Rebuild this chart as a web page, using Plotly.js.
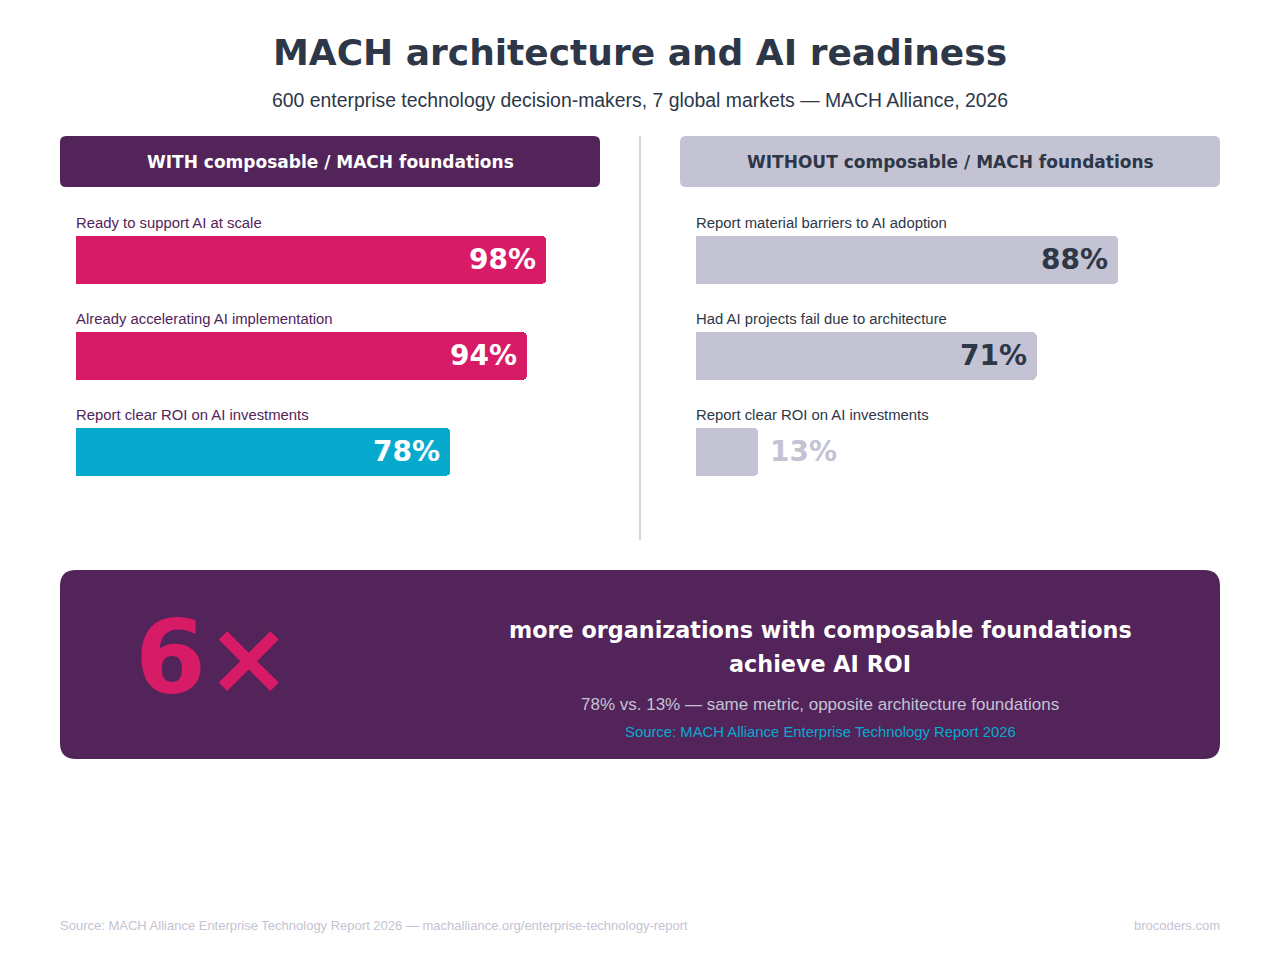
<!DOCTYPE html>
<html>
<head>
<meta charset="utf-8">
<script src="https://cdn.plot.ly/plotly-3.0.1.min.js"></script>
<style>html,body{margin:0;padding:0;background:#fff;}#chart{width:1280px;height:960px;}</style>
</head>
<body>
<div id="chart"></div>
<script>
// ---- data ----
const withLabels = ['Ready to support AI at scale', 'Already accelerating AI implementation', 'Report clear ROI on AI investments'];
const withValues = [98, 94, 78];
const withColors = ['#d81b66', '#d81b66', '#07aacd'];
const withoutLabels = ['Report material barriers to AI adoption', 'Had AI projects fail due to architecture', 'Report clear ROI on AI investments'];
const withoutValues = [88, 71, 13];
const multiplier = '6×';

// ---- helpers ----
const W = 1280, H = 960;
const px = x => x / W;
const py = y => 1 - y / H;
function roundRect(x0, y0, x1, y1, r) {
  const rx = r / W, ry = r / H;
  const a = px(x0), b = px(x1), t = py(y0), u = py(y1);
  return `M ${a + rx},${t} L ${b - rx},${t} Q ${b},${t} ${b},${t - ry} L ${b},${u + ry} Q ${b},${u} ${b - rx},${u} L ${a + rx},${u} Q ${a},${u} ${a},${u + ry} L ${a},${t - ry} Q ${a},${t} ${a + rx},${t} Z`;
}
const PURPLE = '#52245a', GRAY = '#c4c3d3', DARK = '#2d3748', PINK = '#d81b66', CYAN = '#07aacd';
const idx = withValues.map((_, i) => i);

const traces = [
  {type: 'bar', orientation: 'h', x: withValues, y: idx, width: 0.5, xaxis: 'x', yaxis: 'y',
   marker: {color: withColors, cornerradius: 5}, hoverinfo: 'skip'},
  {type: 'bar', orientation: 'h', x: withoutValues, y: idx, width: 0.5, xaxis: 'x2', yaxis: 'y2',
   marker: {color: GRAY, cornerradius: 5}, hoverinfo: 'skip'}
];

const ann = [];
const A = (o) => ann.push(Object.assign({showarrow: false}, o));
// titles
A({xref: 'paper', yref: 'paper', x: 0.5, y: py(52), text: 'MACH architecture and AI readiness',
   font: {family: 'DejaVu Sans', size: 36, weight: 700, color: DARK}, xanchor: 'center', yanchor: 'middle'});
A({xref: 'paper', yref: 'paper', x: 0.5, y: py(100), text: '600 enterprise technology decision-makers, 7 global markets — MACH Alliance, 2026',
   font: {family: 'Liberation Sans', size: 19.4, color: DARK}, xanchor: 'center', yanchor: 'middle'});
// headers
A({xref: 'paper', yref: 'paper', x: px(330), y: py(162), text: 'WITH composable / MACH foundations',
   font: {family: 'DejaVu Sans', size: 17, weight: 700, color: '#ffffff'}, xanchor: 'center', yanchor: 'middle'});
A({xref: 'paper', yref: 'paper', x: px(950), y: py(162), text: 'WITHOUT composable / MACH foundations',
   font: {family: 'DejaVu Sans', size: 17, weight: 700, color: DARK}, xanchor: 'center', yanchor: 'middle'});
// bar labels & values
idx.forEach(i => {
  A({xref: 'x', yref: 'y', x: 0, y: i - 0.4, text: withLabels[i], xanchor: 'left', yanchor: 'middle', xshift: -2, yshift: -1,
     font: {family: 'Liberation Sans', size: 14.85, color: PURPLE}});
  A({xref: 'x', yref: 'y', x: withValues[i], y: i, text: withValues[i] + '%', xanchor: 'right', yanchor: 'middle', xshift: -8, yshift: 1,
     font: {family: 'DejaVu Sans', size: 28, weight: 700, color: '#ffffff'}});
  A({xref: 'x2', yref: 'y2', x: 0, y: i - 0.4, text: withoutLabels[i], xanchor: 'left', yanchor: 'middle', xshift: -2, yshift: -1,
     font: {family: 'Liberation Sans', size: 14.85, color: DARK}});
  const big = withoutValues[i] > 30;
  A({xref: 'x2', yref: 'y2', x: withoutValues[i], y: i, text: withoutValues[i] + '%',
     xanchor: big ? 'right' : 'left', yanchor: 'middle', xshift: big ? -8 : 10, yshift: 1,
     font: {family: 'DejaVu Sans', size: 28, weight: 700, color: big ? DARK : GRAY}});
});
// callout
A({xref: 'paper', yref: 'paper', x: px(213), y: py(657), text: multiplier,
   font: {family: 'DejaVu Sans', size: 102, weight: 700, color: PINK}, xanchor: 'center', yanchor: 'middle'});
A({xref: 'paper', yref: 'paper', x: px(820), y: py(630), text: 'more organizations with composable foundations',
   font: {family: 'DejaVu Sans', size: 22.3, weight: 700, color: '#ffffff'}, xanchor: 'center', yanchor: 'middle'});
A({xref: 'paper', yref: 'paper', x: px(820), y: py(664), text: 'achieve AI ROI',
   font: {family: 'DejaVu Sans', size: 22.3, weight: 700, color: '#ffffff'}, xanchor: 'center', yanchor: 'middle'});
A({xref: 'paper', yref: 'paper', x: px(820), y: py(704), text: withValues[2] + '% vs. ' + withoutValues[2] + '% — same metric, opposite architecture foundations',
   font: {family: 'Liberation Sans', size: 17, color: GRAY}, xanchor: 'center', yanchor: 'middle'});
A({xref: 'paper', yref: 'paper', x: px(820), y: py(732), text: 'Source: MACH Alliance Enterprise Technology Report 2026',
   font: {family: 'Liberation Sans', size: 14.85, color: CYAN}, xanchor: 'center', yanchor: 'middle'});
// footer
A({xref: 'paper', yref: 'paper', x: px(60), y: py(925), text: 'Source: MACH Alliance Enterprise Technology Report 2026 — machalliance.org/enterprise-technology-report',
   font: {family: 'Liberation Sans', size: 13, color: GRAY}, xanchor: 'left', yanchor: 'middle', xshift: -2});
A({xref: 'paper', yref: 'paper', x: px(1220), y: py(925), text: 'brocoders.com',
   font: {family: 'Liberation Sans', size: 13, color: GRAY}, xanchor: 'right', yanchor: 'middle', xshift: 2});

const shapes = [
  {type: 'path', xref: 'paper', yref: 'paper', path: roundRect(60, 136, 600, 187, 6), fillcolor: PURPLE, line: {width: 0}, layer: 'below'},
  {type: 'path', xref: 'paper', yref: 'paper', path: roundRect(680, 136, 1220, 187, 6), fillcolor: GRAY, line: {width: 0}, layer: 'below'},
  {type: 'line', xref: 'paper', yref: 'paper', x0: 0.5, x1: 0.5, y0: py(136), y1: py(540), line: {color: '#d6d6de', width: 2}},
  {type: 'path', xref: 'paper', yref: 'paper', path: roundRect(60, 570, 1220, 759, 16), fillcolor: PURPLE, line: {width: 0}, layer: 'below'}
];

const axX = d => ({domain: d, range: [0, 100], visible: false, fixedrange: true});
const axY = (anchor) => ({domain: [py(500), py(212)], range: [2.5, -0.5], visible: false, fixedrange: true, anchor: anchor});
const layout = {
  width: W, height: H, margin: {l: 0, r: 0, t: 0, b: 0},
  paper_bgcolor: '#ffffff', plot_bgcolor: 'rgba(0,0,0,0)', showlegend: false,
  xaxis: Object.assign(axX([px(76), px(556)]), {anchor: 'y'}),
  yaxis: axY('x'),
  xaxis2: Object.assign(axX([px(696), px(1176)]), {anchor: 'y2'}),
  yaxis2: axY('x2'),
  barcornerradius: 5,
  shapes: shapes, annotations: ann, bargap: 0
};
Plotly.newPlot('chart', traces, layout, {displayModeBar: false, staticPlot: true});
</script>
</body>
</html>
